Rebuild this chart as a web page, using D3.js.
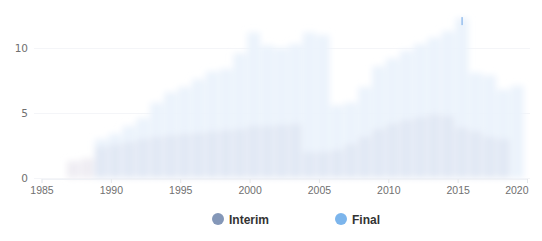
<!DOCTYPE html>
<html><head><meta charset="utf-8">
<script src="https://cdn.jsdelivr.net/npm/d3@7"></script>
<style>
html,body{margin:0;padding:0;background:#fff;}
svg{display:block;font-family:"DejaVu Sans",Arial,sans-serif;}
</style></head>
<body><svg id="chart" width="542" height="241"></svg>
<script>
const years = [1987,1988,1989,1990,1991,1992,1993,1994,1995,1996,1997,1998,1999,2000,2001,2002,2003,2004,2005,2006,2007,2008,2009,2010,2011,2012,2013,2014,2015,2016,2017,2018,2019];
const interim = [1.3,1.5,2.4,2.6,2.8,3.0,3.2,3.3,3.4,3.5,3.6,3.7,3.8,4.0,4.0,4.1,4.2,2.0,2.0,2.2,2.6,3.2,3.8,4.2,4.5,4.7,4.9,4.8,3.9,3.6,3.2,3.0,0];
const finalV = [0,0,0.6,0.8,1.2,1.6,2.6,3.3,3.6,4.1,4.6,4.7,5.8,7.2,6.2,5.9,6.1,9.2,9.0,3.4,3.2,3.8,4.8,5.0,5.3,5.6,5.9,6.5,8.4,4.5,4.7,3.8,7.1];
const xTicks = [1985,1990,1995,2000,2005,2010,2015,2020];
const yTicks = [0,5,10];
const seriesNames = ["Interim","Final"];
const seriesColors = ["#8497b8","#7cb5ec"];
const fadedColors = ["#e1e8f4","#ebf3fc"];
const highlightYear = 2015;

const svg = d3.select("#chart");
const x = d3.scaleLinear().domain([1985,2020]).range([41.5,527]);
const y = d3.scaleLinear().domain([0,10]).range([178,48]);

const defs = svg.append("defs");
defs.append("filter").attr("id","blur").attr("x","-10%").attr("y","-20%").attr("width","120%").attr("height","140%")
  .append("feGaussianBlur").attr("stdDeviation",3.3);

// gridlines
svg.append("g").selectAll("line").data(yTicks).join("line")
  .attr("x1",34).attr("x2",530).attr("y1",d=>Math.round(y(d))+0.5).attr("y2",d=>Math.round(y(d))+0.5)
  .attr("stroke","#f4f5f8");

const rows = years.map((yr,i)=>({yr, a:interim[i], b:finalV[i]}));
const g = svg.append("g").attr("filter","url(#blur)");
const bw = 12.8;
const xc = d => x(d.yr + 0.3);
g.selectAll("rect.i").data(rows.filter(d=>d.a>0)).join("rect")
  .attr("x",d=>xc(d)-bw/2).attr("width",bw)
  .attr("y",d=>y(d.a)).attr("height",d=>y(0)-y(d.a))
  .attr("fill",d=>d.yr<1989?"#efedf3":fadedColors[0]);
g.selectAll("rect.f").data(rows.filter(d=>d.b>0)).join("rect")
  .attr("x",d=>xc(d)-bw/2).attr("width",bw)
  .attr("y",d=>y(d.a+d.b)).attr("height",d=>y(d.a)-y(d.a+d.b))
  .attr("fill",fadedColors[1]);

// thin highlight sliver on the top of the highlighted bar
const hr = rows.find(d=>d.yr===highlightYear);
svg.append("rect").attr("x",xc(hr)-0.5).attr("width",1.6)
  .attr("y",y(hr.a+hr.b)-1).attr("height",8)
  .attr("fill","#9cc2ee");

// x axis
const ax = svg.append("g").attr("transform","translate(0,179)")
  .call(d3.axisBottom(x).tickValues(xTicks).tickFormat(d3.format("d")).tickSize(4).tickPadding(4));
ax.select(".domain").attr("stroke","#f0f2f6");
ax.selectAll(".tick line").attr("stroke","#e6e8ec");
ax.selectAll("text").attr("fill","#707070").style("font-size","10.5px");
ax.selectAll(".tick").filter(d=>d===2020).select("text").attr("text-anchor","end").attr("dx",1);

// y axis labels
svg.append("g").selectAll("text").data(yTicks).join("text")
  .attr("x",28).attr("y",d=>y(d)+4).attr("text-anchor","end")
  .attr("fill","#707070").style("font-size","10.5px").text(d=>d);

// legend
const lg = svg.append("g");
const lx = [218,341];
seriesNames.forEach((n,i)=>{
  lg.append("circle").attr("cx",lx[i]).attr("cy",219).attr("r",6).attr("fill",seriesColors[i]);
  lg.append("text").attr("x",lx[i]+11).attr("y",223.5).attr("fill","#333")
    .style("font-family","'Liberation Sans',Arial,sans-serif")
    .style("font-size","12px").style("font-weight","bold").text(n);
});
</script></body></html>
